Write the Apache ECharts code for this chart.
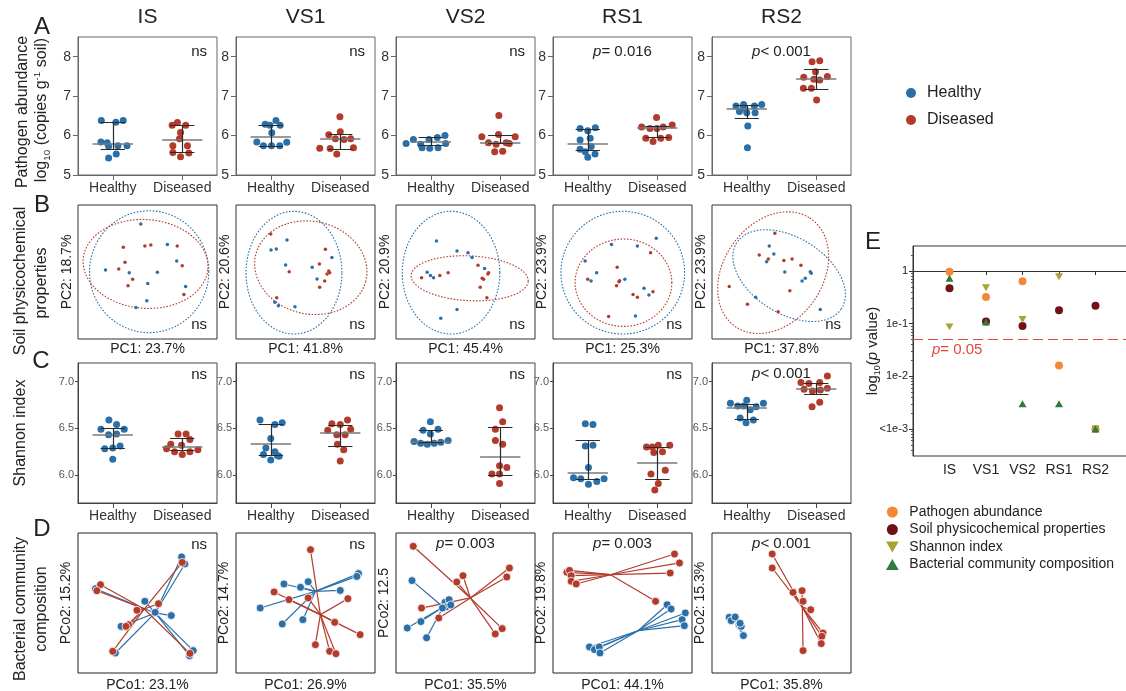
<!DOCTYPE html>
<html>
<head>
<meta charset="utf-8">
<script src="https://cdn.jsdelivr.net/npm/echarts@6.0.0/dist/echarts.min.js"></script>
<style>
  html, body { margin: 0; padding: 0; background: #fff; }
  #chart { width: 1126px; height: 691px; }
</style>
</head>
<body>
<div id="chart"></div>
<script>
// sampling stages (columns) and the two plant groups
var sites = ['IS', 'VS1', 'VS2', 'RS1', 'RS2'];
var groups = ['Healthy', 'Diseased'];

// A: pathogen abundance, log10 copies per g soil  -- [jitter x (group at 1 / 3), value]
var abundanceHealthy = [
  [[0.67,6.38],[1.09,6.34],[1.30,6.38],[0.66,5.84],[0.84,5.82],[0.88,5.73],[1.15,5.74],[1.41,5.74],[1.10,5.53],[0.88,5.43]],
  [[1.15,6.38],[0.84,6.29],[0.98,6.26],[1.27,6.26],[1.03,6.07],[0.60,5.84],[0.79,5.74],[1.02,5.74],[1.26,5.74],[1.46,5.83]],
  [[0.29,5.80],[0.50,5.90],[0.71,5.78],[0.95,5.90],[1.19,5.95],[1.41,6.00],[0.75,5.69],[0.97,5.68],[1.21,5.69],[1.43,5.80]],
  [[0.78,6.18],[1.00,6.12],[1.22,6.20],[0.78,5.89],[1.07,5.93],[0.78,5.65],[1.10,5.72],[0.93,5.59],[1.21,5.53],[1.00,5.45]],
  [[0.69,6.75],[0.91,6.79],[1.22,6.75],[1.43,6.79],[0.79,6.61],[1.00,6.58],[1.24,6.58],[1.03,6.24],[1.02,5.69],[0.90,6.70]]
];
var abundanceDiseased = [
  [[2.71,6.26],[2.86,6.33],[3.10,6.26],[2.95,6.08],[2.92,5.92],[2.73,5.74],[3.15,5.74],[2.73,5.57],[3.19,5.56],[2.95,5.46]],
  [[2.99,6.48],[3.00,6.10],[2.67,6.02],[2.86,5.92],[3.11,5.90],[3.30,5.92],[2.41,5.68],[2.71,5.67],[3.38,5.69],[2.90,5.53]],
  [[2.96,6.51],[2.47,5.97],[2.95,6.03],[3.43,5.97],[2.66,5.82],[2.88,5.78],[3.17,5.82],[2.84,5.59],[3.07,5.60],[3.26,5.80]],
  [[2.98,6.46],[2.55,6.22],[2.79,6.18],[2.99,6.18],[3.43,6.27],[2.67,5.93],[2.88,5.85],[3.10,5.93],[3.33,5.95],[3.17,6.22]],
  [[2.88,7.87],[3.10,7.90],[2.98,7.62],[2.64,7.48],[2.93,7.43],[3.32,7.50],[3.10,7.41],[2.63,7.20],[2.86,7.20],[3.01,6.90]]
];
// [median, lower quartile, upper quartile]
var abundanceSummaryHealthy = [[5.78,5.65,6.33],[5.97,5.74,6.26],[5.85,5.76,5.95],[5.80,5.62,6.15],[6.67,6.43,6.76]];
var abundanceSummaryDiseased = [[5.90,5.58,6.27],[5.91,5.66,6.03],[5.82,5.80,6.00],[6.19,5.95,6.23],[7.45,7.17,7.67]];
var abundanceNote = ['ns', 'ns', 'ns', '{i|p}= 0.016', '{i|p}< 0.001'];

// B: soil physicochemical PCA (scores rescaled to the panel, 0-100)
var pcaHealthy = [
  [[45.2,85.8],[64.3,70.6],[71.0,58.2],[19.8,51.5],[36.9,49.5],[57.1,49.8],[50.2,41.5],[77.4,39.1],[49.5,28.6],[41.7,23.6]],
  [[25.2,66.4],[29.0,67.2],[36.7,73.9],[35.7,55.2],[54.8,53.5],[69.0,60.9],[58.3,44.8],[27.9,27.4],[30.5,24.9],[42.4,24.1]],
  [[29.1,73.1],[43.9,65.7],[51.8,64.4],[54.7,60.9],[22.4,49.8],[24.8,47.3],[27.0,45.8],[63.7,52.7],[43.9,22.1],[32.2,15.4]],
  [[23.1,58.2],[31.4,49.5],[27.4,43.3],[42.1,70.6],[60.7,69.4],[74.3,75.1],[51.7,44.5],[65.5,37.8],[69.0,32.8],[59.3,17.2]],
  [[41.2,69.4],[44.5,63.4],[39.3,57.7],[52.4,50.0],[70.7,50.2],[71.4,49.0],[67.1,45.3],[64.8,43.3],[31.4,31.1],[77.9,22.1]]
];
var pcaDiseased = [
  [[48.1,69.4],[52.4,70.1],[71.4,69.4],[32.6,68.4],[33.8,57.2],[29.3,52.2],[39.3,44.5],[36.0,39.8],[75.0,54.7],[76.2,33.3]],
  [[25.0,78.4],[38.3,50.2],[64.3,66.9],[60.0,56.0],[66.7,50.7],[67.4,49.5],[65.5,48.5],[63.8,43.3],[60.2,38.6],[29.3,30.8]],
  [[18.4,45.8],[31.5,47.3],[37.5,49.5],[59.0,55.0],[66.6,49.5],[66.1,48.5],[62.0,45.3],[63.0,44.5],[60.6,38.6],[65.4,30.8]],
  [[46.2,53.5],[47.4,42.8],[45.7,39.8],[25.0,44.5],[70.2,64.4],[57.6,33.3],[60.7,31.1],[71.9,35.3],[40.0,16.7],[47.9,43.5]],
  [[45.2,78.9],[34.0,62.7],[40.5,59.7],[51.7,58.5],[57.6,59.7],[64.0,55.0],[56.0,36.1],[12.4,39.1],[25.5,25.9],[47.6,20.4]]
];
// confidence ellipses: [centre x, centre y, semi-axis x, semi-axis y, tilt in degrees]
var ellipseHealthy = [[51.2,50.2,42.9,45.5,0],[41.7,49.5,34.5,45.8,0],[39.6,49.5,35.1,45.8,0],[50.2,49.5,44.5,45.8,0],[55.5,47.3,45.0,28.0,-34]];
var ellipseDiseased = [[48.6,56.0,45.0,33.1,-5],[53.8,53.2,40.8,34.5,-15],[53.0,45.3,42.2,16.7,-3],[50.7,42.0,34.8,32.6,0],[44.0,49.5,48.6,36.0,58]];
var pcaXName = ['PC1: 23.7%', 'PC1: 41.8%', 'PC1: 45.4%', 'PC1: 25.3%', 'PC1: 37.8%'];
var pcaYName = ['PC2: 18.7%', 'PC2: 20.6%', 'PC2: 20.9%', 'PC2: 23.9%', 'PC2: 23.9%'];

// C: Shannon index
var shannonHealthy = [
  [[0.89,6.59],[1.11,6.54],[0.66,6.49],[1.33,6.49],[1.11,6.44],[0.88,6.43],[0.77,6.28],[1.00,6.29],[1.21,6.31],[1.00,6.17]],
  [[0.69,6.59],[1.12,6.54],[1.33,6.56],[1.00,6.39],[0.86,6.29],[1.12,6.25],[0.79,6.22],[1.19,6.21],[1.00,6.16],[1.24,6.20]],
  [[0.99,6.57],[0.78,6.48],[1.21,6.49],[0.99,6.44],[0.52,6.36],[0.71,6.34],[0.90,6.33],[1.10,6.34],[1.29,6.35],[1.50,6.37]],
  [[0.93,6.55],[1.15,6.54],[0.93,6.31],[1.15,6.32],[1.02,6.08],[0.59,5.97],[0.80,5.96],[1.02,5.90],[1.26,5.93],[1.47,5.96]],
  [[0.53,6.77],[1.00,6.80],[1.48,6.77],[0.74,6.74],[1.27,6.73],[1.10,6.70],[0.81,6.61],[0.98,6.56],[1.19,6.59],[0.91,6.74]]
];
var shannonDiseased = [
  [[2.88,6.44],[3.11,6.44],[3.22,6.38],[2.67,6.33],[2.98,6.32],[2.55,6.28],[2.78,6.25],[3.00,6.22],[3.22,6.25],[3.45,6.27]],
  [[3.21,6.59],[2.76,6.55],[3.00,6.54],[3.30,6.49],[2.64,6.48],[2.90,6.43],[3.14,6.43],[2.92,6.33],[3.10,6.27],[3.00,6.15]],
  [[2.98,6.72],[3.07,6.57],[2.86,6.49],[2.86,6.37],[3.07,6.33],[2.98,6.10],[3.19,6.08],[2.76,6.01],[2.98,6.01],[2.98,5.91]],
  [[2.69,6.30],[3.03,6.32],[3.36,6.32],[2.90,6.24],[3.15,6.25],[3.23,6.05],[2.82,6.01],[3.03,5.91],[2.93,5.84],[2.86,6.30]],
  [[3.32,7.06],[2.56,6.99],[2.79,6.98],[3.10,6.99],[2.65,6.92],[2.89,6.90],[3.12,6.91],[3.32,6.93],[3.10,6.78],[2.88,6.73]]
];
var shannonSummaryHealthy = [[6.43,6.29,6.50],[6.33,6.21,6.54],[6.36,6.35,6.48],[6.02,5.95,6.37],[6.72,6.60,6.76]];
var shannonSummaryDiseased = [[6.30,6.26,6.39],[6.45,6.31,6.53],[6.20,6.00,6.51],[6.13,5.95,6.30],[6.92,6.86,6.98]];
var shannonNote = ['ns', 'ns', 'ns', 'ns', '{i|p}< 0.001'];

// D: bacterial community PCoA (scores rescaled, 0-100) and group centroids
var pcoaHealthy = [
  [[74.5,82.9],[76.9,77.9],[12.6,60.2],[48.1,51.2],[67.1,41.0],[31.0,33.3],[26.9,14.3],[82.9,16.0],[80.2,12.4],[55.5,43.3]],
  [[88.1,71.0],[86.9,69.0],[34.5,63.6],[46.4,61.2],[51.9,65.2],[75.0,59.0],[17.4,46.4],[33.3,35.0],[48.1,38.1]],
  [[11.5,66.0],[8.1,32.1],[17.9,36.7],[22.0,25.2],[35.3,50.5],[38.2,52.4],[35.8,47.1],[39.4,48.6],[33.4,46.4]],
  [[82.1,48.8],[85.0,45.7],[95.2,42.9],[92.9,38.1],[94.5,33.8],[26.2,18.6],[29.8,16.7],[33.3,18.6],[33.8,14.3]],
  [[12.4,39.8],[16.0,38.8],[13.8,37.4],[19.5,34.5],[21.0,33.3],[22.6,26.7],[16.7,40.0],[20.2,35.5]]
];
var pcoaDiseased = [
  [[75.0,79.0],[16.2,63.1],[13.6,58.8],[57.9,49.5],[42.4,44.8],[36.4,34.5],[34.5,33.3],[25.0,15.5],[80.5,14.0]],
  [[53.6,88.1],[27.4,57.9],[38.1,52.4],[51.9,53.6],[80.5,53.1],[71.0,36.2],[89.3,27.4],[57.1,20.2],[67.4,15.5],[71.9,13.8]],
  [[12.4,90.5],[48.2,69.5],[43.7,65.0],[81.6,75.0],[79.7,68.6],[18.4,46.4],[30.8,39.3],[76.4,31.7],[71.4,27.9]],
  [[10.0,71.9],[11.9,73.3],[13.1,69.5],[13.1,65.5],[16.7,63.6],[87.4,85.0],[91.0,78.6],[84.3,71.4],[73.8,51.2]],
  [[43.3,85.0],[43.3,75.0],[58.3,57.6],[64.8,58.8],[65.5,51.2],[71.0,45.2],[79.8,28.6],[79.0,26.2],[78.6,21.0],[65.5,16.0]]
];
var centroidHealthy = [[55.5,42.9],[57.1,58.3],[33.9,47.1],[61.2,30.2],[17.1,36.2]];
var centroidDiseased = [[47.6,45.7],[60.7,41.7],[53.5,53.6],[41.4,70.2],[65.0,47.1]];
var pcoaXName = ['PCo1: 23.1%', 'PCo1: 26.9%', 'PCo1: 35.5%', 'PCo1: 44.1%', 'PCo1: 35.8%'];
var pcoaYName = ['PCo2: 15.2%', 'PCo2: 14.7%', 'PCo2: 12.5', 'PCo2: 19.8%', 'PCo2: 15.3%'];
var pcoaNote = ['ns', 'ns', '{i|p}= 0.003', '{i|p}= 0.003', '{i|p}< 0.001'];

// E: p values per stage
var pAbundance = [0.97, 0.32, 0.64, 0.016, 0.001];
var pSoil = [0.47, 0.11, 0.09, 0.18, 0.22];
var pShannon = [0.087, 0.48, 0.12, 0.78, 0.001];
var pBacterial = [0.73, 0.108, 0.003, 0.003, 0.001];
var pLabels = {'0': '1', '-1': '1e-1', '-2': '1e-2', '-3': '<1e-3'};

var font = 'Arial, "Liberation Sans", sans-serif';
var blue = '#2a6fa8', red = '#b23b2c';
var triUp = 'path://M5,0L10,8.66L0,8.66Z';
var triDown = 'path://M0,0L10,0L5,8.66Z';

var colLeft = [78, 236, 396, 553, 712];
var boxW = 139;
var rowTop = [37, 205, 363, 533];
var rowH = [138, 134, 140, 140];

var grids = [], xAxes = [], yAxes = [], series = [], graphics = [];

function text(str, x, y, size, opts) {
  opts = opts || {};
  var el = {
    type: 'text', x: x, y: y, rotation: opts.rotation || 0, silent: true,
    style: {
      text: str, fill: opts.color || '#222', font: (opts.italic ? 'italic ' : '') + size + 'px ' + font,
      align: opts.align || 'center', verticalAlign: 'middle',
      textAlign: opts.align || 'center', textVerticalAlign: 'middle',
      rich: {
        i: {fontStyle: 'italic', fontSize: size, fontFamily: font, fill: opts.color || '#222'},
        n: {fontSize: size, fontFamily: font, fill: opts.color || '#222', lineHeight: 20, verticalAlign: 'middle'},
        sub: {fontSize: size * 0.62, fontFamily: font, fill: opts.color || '#222', lineHeight: 20, verticalAlign: 'bottom'},
        sup: {fontSize: size * 0.62, fontFamily: font, fill: opts.color || '#222', lineHeight: 20, verticalAlign: 'top'}
      }
    }
  };
  graphics.push(el);
}

function addGrid(r, c, border) {
  grids.push({
    left: colLeft[c], top: rowTop[r], width: boxW, height: rowH[r],
    show: true, borderColor: border, borderWidth: 1, backgroundColor: 'transparent',
    containLabel: false, outerBoundsMode: 'none'
  });
  return grids.length - 1;
}

function groupAxis(gi, border) {
  return {
    gridIndex: gi, type: 'value', min: 0, max: 4,
    axisLine: {show: true, lineStyle: {color: border}},
    axisTick: {show: true, customValues: [1, 3], length: 5, lineStyle: {color: border}},
    axisLabel: {customValues: [1, 3], fontSize: 14, color: '#333', margin: 6, fontFamily: font,
      formatter: function (v) { return v === 1 ? groups[0] : groups[1]; }},
    splitLine: {show: false}
  };
}

function hiddenAxis(gi, name, gap) {
  return {
    gridIndex: gi, type: 'value', min: 0, max: 100,
    axisLine: {show: false}, axisTick: {show: false}, axisLabel: {show: false}, splitLine: {show: false},
    name: name, nameLocation: 'middle', nameGap: gap,
    nameTextStyle: {fontSize: 14, color: '#222', fontFamily: font}
  };
}

function addDotPanel(gi, healthy, diseased, sumH, sumD) {
  [healthy, diseased].forEach(function (pts, g) {
    var s = g === 0 ? sumH : sumD;
    var c = g === 0 ? 1 : 3;
    series.push({
      type: 'scatter', name: groups[g], xAxisIndex: gi, yAxisIndex: gi, data: pts,
      symbol: 'circle', symbolSize: 7, itemStyle: {color: g ? red : blue, opacity: 1}, z: 3, silent: true
    });
    series.push({
      type: 'lines', coordinateSystem: 'cartesian2d', xAxisIndex: gi, yAxisIndex: gi, silent: true, z: 4,
      lineStyle: {color: '#7a7a7a', width: 1.6, opacity: 1},
      data: [{coords: [[c - 0.58, s[0]], [c + 0.58, s[0]]]}]
    });
    series.push({
      type: 'lines', coordinateSystem: 'cartesian2d', xAxisIndex: gi, yAxisIndex: gi, silent: true, z: 5,
      lineStyle: {color: '#2a2a2a', width: 1.2, opacity: 1},
      data: [
        {coords: [[c, s[1]], [c, s[2]]]},
        {coords: [[c - 0.35, s[1]], [c + 0.35, s[1]]]},
        {coords: [[c - 0.35, s[2]], [c + 0.35, s[2]]]}
      ]
    });
  });
}

function ellipsePoints(e) {
  var pts = [];
  var a = e[4] * Math.PI / 180;
  for (var k = 0; k <= 120; k++) {
    var t = k / 120 * 2 * Math.PI;
    var ux = e[2] * Math.cos(t), uy = e[3] * Math.sin(t);
    pts.push([e[0] + ux * Math.cos(a) - uy * Math.sin(a), e[1] + ux * Math.sin(a) + uy * Math.cos(a)]);
  }
  return pts;
}

sites.forEach(function (site, c) {
  var cx = colLeft[c] + boxW / 2;
  text(site, cx, 17, 21);

  // row A
  var gi = addGrid(0, c, '#666');
  xAxes.push(groupAxis(gi, '#666'));
  yAxes.push({
    gridIndex: gi, type: 'value', min: 5, max: 8.5,
    axisLine: {show: true, lineStyle: {color: '#666'}},
    axisTick: {show: true, customValues: [5, 6, 7, 8], length: 5, lineStyle: {color: '#666'}},
    axisLabel: {customValues: [5, 6, 7, 8], fontSize: 14, color: '#333', margin: 7, fontFamily: font},
    splitLine: {show: false}
  });
  addDotPanel(gi, abundanceHealthy[c], abundanceDiseased[c], abundanceSummaryHealthy[c], abundanceSummaryDiseased[c]);
  if (abundanceNote[c] === 'ns') text('ns', colLeft[c] + boxW - 10, rowTop[0] + 15, 15, {align: 'right'});
  else text(abundanceNote[c], cx, rowTop[0] + 15, 15);

  // row B
  gi = addGrid(1, c, '#333');
  xAxes.push(hiddenAxis(gi, pcaXName[c], 3));
  yAxes.push(hiddenAxis(gi, pcaYName[c], 4));
  [ellipseHealthy[c], ellipseDiseased[c]].forEach(function (e, g) {
    series.push({
      type: 'line', xAxisIndex: gi, yAxisIndex: gi, data: ellipsePoints(e), showSymbol: false, symbol: 'none',
      silent: true, z: 2, lineStyle: {color: g ? red : blue, width: 1.1, type: [1.6, 1.6]}
    });
  });
  [pcaHealthy[c], pcaDiseased[c]].forEach(function (pts, g) {
    series.push({
      type: 'scatter', name: groups[g], xAxisIndex: gi, yAxisIndex: gi, data: pts, symbol: 'circle',
      symbolSize: 3.5, itemStyle: {color: g ? red : blue, opacity: 1}, z: 3, silent: true
    });
  });
  text('ns', colLeft[c] + boxW - 10, rowTop[1] + rowH[1] - 14, 15, {align: 'right'});

  // row C
  gi = addGrid(2, c, '#444');
  xAxes.push(groupAxis(gi, '#444'));
  yAxes.push({
    gridIndex: gi, type: 'value', min: 5.7, max: 7.2,
    axisLine: {show: true, lineStyle: {color: '#444'}},
    axisTick: {show: true, customValues: [6, 6.5, 7], length: 3, lineStyle: {color: '#444'}},
    axisLabel: {customValues: [6, 6.5, 7], fontSize: 11, color: '#555', margin: 4, fontFamily: font,
      formatter: function (v) { return v.toFixed(1); }},
    splitLine: {show: false}
  });
  addDotPanel(gi, shannonHealthy[c], shannonDiseased[c], shannonSummaryHealthy[c], shannonSummaryDiseased[c]);
  if (shannonNote[c] === 'ns') text('ns', colLeft[c] + boxW - 10, rowTop[2] + 12, 15, {align: 'right'});
  else text(shannonNote[c], cx, rowTop[2] + 11, 15);

  // row D
  gi = addGrid(3, c, '#222');
  xAxes.push(hiddenAxis(gi, pcoaXName[c], 5));
  yAxes.push(hiddenAxis(gi, pcoaYName[c], 5));
  [pcoaHealthy[c], pcoaDiseased[c]].forEach(function (pts, g) {
    var cen = g ? centroidDiseased[c] : centroidHealthy[c];
    series.push({
      type: 'lines', coordinateSystem: 'cartesian2d', xAxisIndex: gi, yAxisIndex: gi, silent: true, z: 2,
      lineStyle: {color: g ? red : blue, width: 1.2, opacity: 1},
      data: pts.map(function (p) { return {coords: [p, cen]}; })
    });
  });
  [pcoaHealthy[c], pcoaDiseased[c]].forEach(function (pts, g) {
    series.push({
      type: 'scatter', name: groups[g], xAxisIndex: gi, yAxisIndex: gi, data: pts, symbol: 'circle',
      symbolSize: 8, itemStyle: {color: g ? red : blue, opacity: 1, borderColor: '#fff', borderWidth: 0.8},
      z: 3, silent: true
    });
  });
  if (pcoaNote[c] === 'ns') text('ns', colLeft[c] + boxW - 10, rowTop[3] + 12, 15, {align: 'right'});
  else text(pcoaNote[c], cx, rowTop[3] + 11, 15);
});

// panel E
var ge = grids.length;
grids.push({left: 913, top: 246, width: 214, height: 210, show: true, borderColor: '#333', borderWidth: 1,
  backgroundColor: 'transparent', containLabel: false, outerBoundsMode: 'none'});
xAxes.push({
  gridIndex: ge, type: 'value', min: 0, max: 214 / 36.5,
  axisLine: {show: true, lineStyle: {color: '#333'}},
  axisTick: {show: true, customValues: [1, 2, 3, 4, 5], length: 4, lineStyle: {color: '#333'}},
  axisLabel: {customValues: [1, 2, 3, 4, 5], fontSize: 14, color: '#222', margin: 7, fontFamily: font,
    formatter: function (v) { return sites[v - 1]; }},
  splitLine: {show: false}
});
var yMin = -3.514, yMax = 0.476;
yAxes.push({
  gridIndex: ge, type: 'value', min: yMin, max: yMax,
  axisLine: {show: true, lineStyle: {color: '#333'}},
  axisTick: {show: true, customValues: [-3, -2, -1, 0], length: 4, lineStyle: {color: '#333'}},
  axisLabel: {customValues: [-3, -2, -1, 0], fontSize: 11, color: '#222', margin: 5, fontFamily: font,
    formatter: function (v) { return pLabels[String(Math.round(v))]; }},
  splitLine: {show: false},
  name: '{n|log}{sub|10}{n|(}{i|p}{n| value)}', nameLocation: 'middle', nameGap: 31, nameMoveOverlap: false,
  nameTextStyle: {
    rich: {
      n: {fontSize: 15, fontFamily: font, color: '#222', lineHeight: 18, verticalAlign: 'middle'},
      i: {fontSize: 15, fontFamily: font, color: '#222', fontStyle: 'italic', lineHeight: 18, verticalAlign: 'middle'},
      sub: {fontSize: 9, fontFamily: font, color: '#222', lineHeight: 18, verticalAlign: 'bottom'}
    }
  }
});
// minor log ticks on a twin axis
var minor = [];
for (var n = -4; n <= 0; n++) {
  for (var k = 2; k <= 9; k++) {
    var v = n + Math.log10(k);
    if (v > yMin && v < yMax) minor.push(v);
  }
}
yAxes.push({
  gridIndex: ge, type: 'value', min: yMin, max: yMax, position: 'left',
  axisLine: {show: false}, axisLabel: {show: false}, splitLine: {show: false},
  axisTick: {show: true, customValues: minor, length: 2, lineStyle: {color: '#555'}}
});

var eSeries = [
  {name: 'Pathogen abundance', values: pAbundance, color: '#f5873a', symbol: 'circle', size: 8},
  {name: 'Soil physicochemical properties', values: pSoil, color: '#6e1218', symbol: 'circle', size: 8},
  {name: 'Shannon index', values: pShannon, color: '#a6a534', symbol: triDown, size: 8},
  {name: 'Bacterial community composition', values: pBacterial, color: '#2e7b3c', symbol: triUp, size: 8}
];
eSeries.forEach(function (s, idx) {
  var item = {
    type: 'scatter', name: s.name, xAxisIndex: ge, yAxisIndex: ge,
    data: s.values.map(function (p, i) { return [i + 1, Math.log10(p)]; }),
    symbol: s.symbol, symbolSize: s.size, symbolKeepAspect: true,
    itemStyle: {color: s.color, opacity: 1}, z: 3 + idx, silent: true
  };
  if (idx === 0) {
    item.markLine = {
      silent: true, symbol: 'none', label: {show: false},
      lineStyle: {color: '#e5463d', type: [10, 5], width: 1.1},
      data: [{yAxis: Math.log10(0.05)}]
    };
  }
  series.push(item);
});

text('{i|p}= 0.05', 932, 350, 15, {align: 'left', color: '#e5463d'});

// panel letters and row titles
text('A', 42, 27, 24);
text('B', 42, 205, 24);
text('C', 41, 361, 24);
text('D', 42, 529, 24);
text('E', 873, 242, 24);
text('Pathogen abundance', 23, 112, 16, {rotation: Math.PI / 2});
text('{n|log}{sub|10}{n| (copies g}{sup|-1}{n| soil)}', 42, 110, 16, {rotation: Math.PI / 2});
text('Soil physicochemical', 21, 281, 16, {rotation: Math.PI / 2});
text('properties', 42, 283, 16, {rotation: Math.PI / 2});
text('Shannon index', 21, 433, 16, {rotation: Math.PI / 2});
text('Bacterial community', 21, 609, 16, {rotation: Math.PI / 2});
text('composition', 42, 609, 16, {rotation: Math.PI / 2});

var option = {
  animation: false,
  backgroundColor: '#fff',
  textStyle: {fontFamily: font},
  legend: [
    {
      data: groups, orient: 'vertical', left: 901, top: 80, itemWidth: 22, itemHeight: 10, itemGap: 11,
      selectedMode: false, textStyle: {fontSize: 16, color: '#222', fontFamily: font}
    },
    {
      data: eSeries.map(function (s) { return s.name; }), orient: 'vertical', left: 881, top: 500,
      itemWidth: 24, itemHeight: 11, itemGap: 3.5, selectedMode: false, symbolKeepAspect: true,
      textStyle: {fontSize: 14, color: '#222', fontFamily: font}
    }
  ],
  grid: grids,
  xAxis: xAxes,
  yAxis: yAxes,
  series: series,
  graphic: graphics
};

var chart = echarts.init(document.getElementById('chart'), null, {renderer: 'canvas'});
chart.setOption(option);
</script>
</body>
</html>
